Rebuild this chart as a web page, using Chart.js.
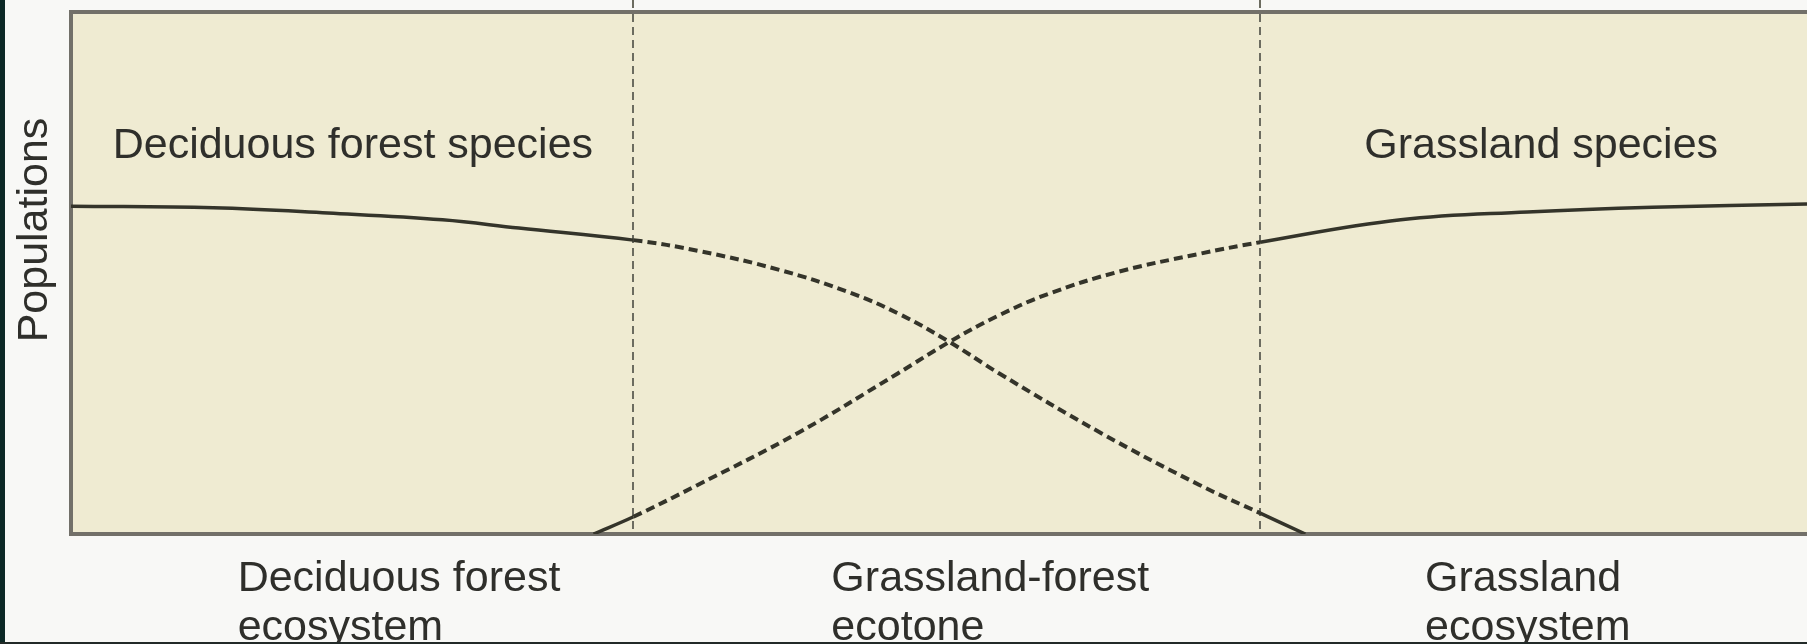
<!DOCTYPE html>
<html><head><meta charset="utf-8">
<script src="https://cdn.jsdelivr.net/npm/chart.js@4.4.1/dist/chart.umd.min.js"></script>
<style>html,body{margin:0;padding:0;background:#f8f8f6;overflow:hidden}canvas{display:block}</style>
</head><body>
<canvas id="c" width="1807" height="644"></canvas>
<script>
// transect position (arbitrary units 0-100) and relative population (0-100)
const deciduousX   = [0, 8.2, 14.8, 21.4, 25.8, 32.4, 36.2, 40.8, 44.9, 47.8, 50.6, 53.5, 59.3, 65.0, 68.5, 71.1];
const deciduousPop = [62.8, 62.5, 61.5, 60.2, 58.6, 56.3, 54.2, 50.6, 46.2, 42.0, 36.8, 30.7, 19.4, 9.4, 4.0, 0];
const grasslandX   = [30.1, 32.4, 36.1, 41.9, 47.6, 50.6, 53.4, 56.3, 60.3, 64.9, 68.5, 76.6, 83.9, 91.1, 100];
const grasslandPop = [0, 3.3, 9.4, 19.4, 30.7, 36.8, 41.8, 46.0, 50.2, 53.6, 55.9, 60.2, 61.7, 62.6, 63.2];
const ecotoneBounds = [32.4, 68.5];
const zoneLabelX = [9.6, 43.8, 78.0];
const zoneLabels = [["Deciduous forest", "ecosystem"], ["Grassland-forest", "ecotone"], ["Grassland", "ecosystem"]];
const speciesLabels = ["Deciduous forest species", "Grassland species"];
const speciesLabelX = [2.4, 74.5];
const speciesLabelY = [72.0, 72.0];
const yTitle = "Populations";

const FONT = '"Liberation Sans", Arial, Helvetica, sans-serif';
const CURVE = '#34342a';
const FRAME = '#727069';
const DASHV = '#6c6c60';
const TEXT = '#2f2f2b';

const toPts = (xs, ys) => xs.map((v, i) => ({x: v, y: ys[i]}));
const inEco = c => c.p0.parsed.x >= ecotoneBounds[0] - 1e-6 && c.p1.parsed.x <= ecotoneBounds[1] + 1e-6;

const decor = {
  id: 'decor',
  beforeDraw(chart) {
    const {ctx, chartArea: a} = chart;
    ctx.save();
    ctx.fillStyle = '#f8f8f6';
    ctx.fillRect(0, 0, chart.width, chart.height);
    ctx.fillStyle = '#efebd2';
    ctx.fillRect(a.left, a.top, a.right - a.left, a.bottom - a.top);
    ctx.restore();
  },
  afterDatasetsDraw(chart) {
    const {ctx, scales: {x, y}} = chart;
    ctx.save();
    ctx.fillStyle = TEXT;
    ctx.font = '43px ' + FONT;
    ctx.textAlign = 'left';
    ctx.textBaseline = 'alphabetic';
    speciesLabels.forEach((t, i) => ctx.fillText(t, x.getPixelForValue(speciesLabelX[i]), y.getPixelForValue(speciesLabelY[i])));
    ctx.translate(35, 230);
    ctx.rotate(-Math.PI / 2);
    ctx.textAlign = 'center';
    ctx.textBaseline = 'middle';
    ctx.font = '43px ' + FONT;
    ctx.fillText(yTitle, 0, 0);
    ctx.restore();
  },
  afterDraw(chart) {
    const {ctx} = chart;
    ctx.save();
    ctx.fillStyle = '#0c2826';
    ctx.fillRect(0, 0, 5, chart.height);
    ctx.fillStyle = '#222a28';
    ctx.fillRect(0, chart.height - 2, chart.width, 2);
    ctx.restore();
  }
};

const lineStyle = {
  borderColor: CURVE,
  backgroundColor: CURVE,
  borderWidth: 3.5,
  pointRadius: 0,
  fill: false,
  tension: 0.4,
  segment: {
    borderDash: c => inEco(c) ? [9, 5] : undefined,
    borderWidth: c => inEco(c) ? 4 : undefined
  }
};

new Chart(document.getElementById('c'), {
  type: 'line',
  data: {
    datasets: [
      Object.assign({ label: 'Deciduous forest species', data: toPts(deciduousX, deciduousPop) }, lineStyle),
      Object.assign({ label: 'Grassland species', data: toPts(grasslandX, grasslandPop) }, lineStyle)
    ]
  },
  options: {
    responsive: false,
    devicePixelRatio: 1,
    animation: false,
    layout: { padding: 0 },
    plugins: { legend: { display: false }, tooltip: { enabled: false } },
    scales: {
      x: {
        type: 'linear', position: 'bottom', min: 0, max: 100,
        afterBuildTicks: s => { s.ticks = zoneLabelX.map(v => ({value: v})); },
        afterFit: s => { s.height = 110; },
        grid: { display: false, drawTicks: false },
        border: { display: true, color: FRAME, width: 4 },
        ticks: {
          autoSkip: false, maxRotation: 0, align: 'start', padding: 20,
          color: TEXT,
          font: { family: FONT, size: 43, lineHeight: 1.15 },
          callback: (v, i) => zoneLabels[i]
        }
      },
      x2: {
        type: 'linear', position: 'top', min: 0, max: 100,
        afterBuildTicks: s => { s.ticks = ecotoneBounds.map(v => ({value: v})); },
        afterFit: s => { s.height = 12; },
        grid: {
          display: true, drawOnChartArea: true, drawTicks: true,
          color: DASHV, lineWidth: 2,
          tickLength: 12, tickColor: DASHV, tickWidth: 2, tickBorderDash: [8, 5]
        },
        border: { display: true, color: FRAME, width: 4, dash: [8, 5] },
        ticks: { display: false }
      },
      y: {
        type: 'linear', position: 'left', min: 0, max: 100,
        afterFit: s => { s.width = 71; },
        grid: { display: false, drawTicks: false },
        border: { display: true, color: FRAME, width: 4 },
        ticks: { display: false }
      }
    }
  },
  plugins: [decor]
});
</script>
</body></html>
